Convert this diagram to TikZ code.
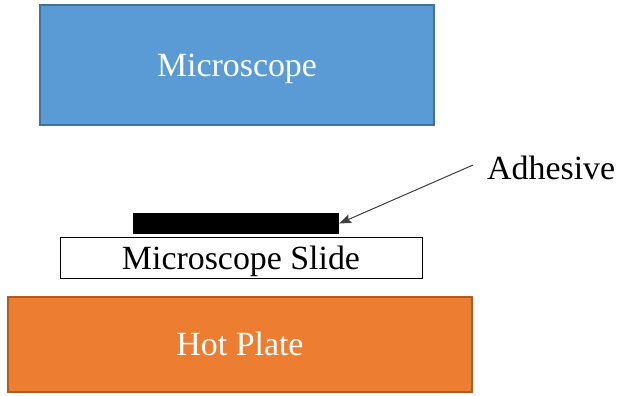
\documentclass[tikz,border=0pt]{standalone}
\usepackage{fontspec}
\setmainfont{Liberation Serif}
\usetikzlibrary{positioning}
\usetikzlibrary{calc}
\usetikzlibrary{arrows.meta}
\definecolor{mblue}{RGB}{91,155,213}
\definecolor{mblueedge}{RGB}{65,113,156}
\definecolor{morange}{RGB}{237,125,49}
\definecolor{morangeedge}{RGB}{174,90,33}

\begin{document}
\begin{tikzpicture}[x=1bp, y=-1bp,
    part/.style={draw, rectangle, inner sep=0pt, font=\fontsize{34}{40}\selectfont,
        text height=22.5bp, text depth=0bp},
    bigpart/.style={part, line width=1.5bp, text=white},
    scopebox/.style={bigpart, fill=mblue, draw=mblueedge, minimum width=394bp, minimum height=120bp},
    platebox/.style={bigpart, fill=morange, draw=morangeedge, minimum width=464bp, minimum height=95bp},
    slidebox/.style={part, fill=white, line width=0.8bp, minimum width=362bp, minimum height=41bp},
    gluebar/.style={draw=none, fill=black, minimum width=206bp, minimum height=21bp, inner sep=0pt},
    arrow/.style={-{Stealth[length=12bp, width=9bp, inset=2bp]}, line width=1bp, draw=black!75, fill=black!75},
]
\useasboundingbox (0,0) rectangle (617,395);
\node[scopebox] (microscope) at (237,65) {Microscope};
\node[slidebox] (slide) at (241,258) {Microscope Slide};
\node[gluebar] (glue) at (236,223.5) {};
\node[platebox] (hotplate) at (240,344.5) {Hot Plate};
\node[anchor=west, inner sep=0pt, font=\fontsize{34}{40}\selectfont,
    text height=22.5bp, text depth=0bp] (adhesive) at (487,168) {Adhesive};

\coordinate (gluetail) at ($(adhesive.west)+(-14,-3)$);
\draw[arrow] (gluetail) -- (glue.east);
\end{tikzpicture}
\end{document}
